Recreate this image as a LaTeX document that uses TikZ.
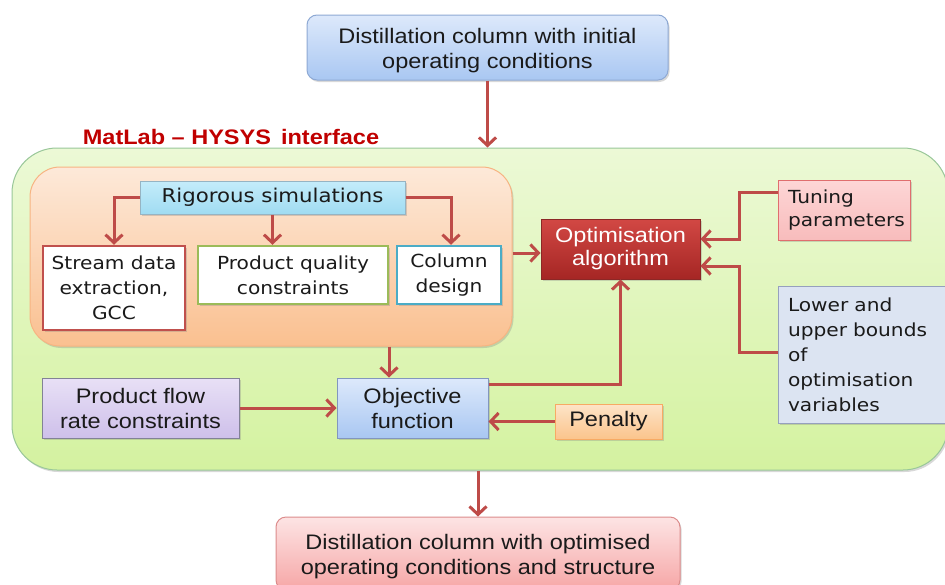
\documentclass[tikz,border=0pt]{standalone}
\usepackage{fontspec}
\setmainfont{Liberation Sans}[FakeStretch=1.12]
\newfontfamily\vfont{DejaVu Sans}[FakeStretch=1.12]
\usetikzlibrary{arrows.meta,shadows}
\definecolor{arrc}{HTML}{BE4B48}
\definecolor{txt}{HTML}{1A1A1A}
\begin{document}
\begin{tikzpicture}[x=1pt,y=-1pt,
  arr/.style={draw=arrc, line width=3pt, -{Straight Barb[length=8pt,width=17pt]}},
  base/.style={line width=1pt, align=center, inner sep=0pt, text=txt,
    font=\fontsize{21}{25}\selectfont},
  sh/.style={drop shadow={opacity=0.3, shadow xshift=1.5pt, shadow yshift=-2pt}},
  vtext/.style={font=\vfont\fontsize{18}{25}\selectfont},
]
\clip (0,0) rectangle (945,584);
\fill[white] (0,0) rectangle (945,584);

% containers
\node[base, sh, draw=green!45!black!40, rounded corners=45pt, top color={rgb,255:red,236;green,249;blue,214},
  bottom color={rgb,255:red,212;green,242;blue,160},
  minimum width=936pt, minimum height=322pt] (green) at (480,309) {};
\node[font=\bfseries\fontsize{21}{24}\selectfont, text={rgb,255:red,192;green,0;blue,0}] (title) at (231,137) {MatLab – HYSYS\, interface};
\node[base, sh, draw={rgb,255:red,247;green,180;blue,130}, rounded corners=30pt,
  top color={rgb,255:red,253;green,233;blue,217}, bottom color={rgb,255:red,250;green,192;blue,144},
  minimum width=482pt, minimum height=179pt] (orange) at (271,256.5) {};

% boxes
\node[base, sh, draw={rgb,255:red,142;green,169;blue,212}, rounded corners=10pt,
  top color={rgb,255:red,221;green,233;blue,251}, bottom color={rgb,255:red,169;green,199;blue,242},
  minimum width=361pt, minimum height=65pt] (top) at (487.5,47.5)
  {\rule{0pt}{21pt}Distillation column with initial\\operating conditions};

\node[base, sh, vtext, font=\vfont\fontsize{19}{22}\selectfont, draw={rgb,255:red,150;green,180;blue,195},
  top color={rgb,255:red,196;green,236;blue,250}, bottom color={rgb,255:red,160;green,220;blue,242},
  minimum width=265pt, minimum height=33pt] (rig) at (272.5,197.5) {Rigorous simulations};

\node[base, sh, vtext, fill=white, draw={rgb,255:red,192;green,80;blue,77}, line width=2.5pt,
  minimum width=142pt, minimum height=84pt] (stream) at (114,288) {Stream data\\extraction,\\GCC};
\node[base, sh, vtext, fill=white, draw={rgb,255:red,155;green,187;blue,89}, line width=2.5pt,
  minimum width=190pt, minimum height=58pt] (pq) at (293,275) {Product quality\\constraints};
\node[base, sh, vtext, fill=white, draw={rgb,255:red,75;green,172;blue,198}, line width=2.5pt,
  minimum width=104pt, minimum height=58pt] (col) at (449,275) {Column\\design};

\node[base, sh, text=white, draw={rgb,255:red,140;green,40;blue,38},
  top color={rgb,255:red,210;green,72;blue,68}, bottom color={rgb,255:red,165;green,38;blue,36},
  minimum width=159pt, minimum height=60pt, font=\fontsize{21}{23}\selectfont] (opt) at (620.5,249) {Optimisation\\algorithm};

\node[base, sh, vtext, align=left, text width=112pt, draw={rgb,255:red,224;green,110;blue,110},
  top color={rgb,255:red,253;green,214;blue,214}, bottom color={rgb,255:red,248;green,188;blue,188},
  minimum width=132pt, minimum height=60pt, font=\vfont\fontsize{18}{23}\selectfont] (tun) at (844,210) {Tuning\\parameters};

\node[base, sh, vtext, align=left, text width=150pt, draw={rgb,255:red,150;green,160;blue,190},
  fill={rgb,255:red,220;green,228;blue,242},
  minimum width=170pt, minimum height=137pt] (low) at (863,354.5)
  {Lower and\\upper bounds\\of\\optimisation\\variables};

\node[base, sh, draw={rgb,255:red,130;green,150;blue,190},
  top color={rgb,255:red,221;green,233;blue,251}, bottom color={rgb,255:red,169;green,199;blue,242},
  minimum width=151pt, minimum height=60pt] (obj) at (412.5,408) {Objective\\function};

\node[base, sh, draw={rgb,255:red,130;green,130;blue,150},
  top color={rgb,255:red,232;green,224;blue,246}, bottom color={rgb,255:red,206;green,192;blue,234},
  minimum width=197pt, minimum height=60pt] (pfr) at (140.5,408) {Product flow\\rate constraints};

\node[base, sh, draw={rgb,255:red,247;green,170;blue,100},
  top color={rgb,255:red,253;green,228;blue,200}, bottom color={rgb,255:red,251;green,196;blue,140},
  minimum width=107pt, minimum height=35pt] (pen) at (608.5,421.5) {Penalty};

\node[base, sh, draw={rgb,255:red,220;green,140;blue,140}, rounded corners=10pt,
  top color={rgb,255:red,253;green,228;blue,228}, bottom color={rgb,255:red,246;green,166;blue,166},
  minimum width=404pt, minimum height=73pt] (bot) at (478,553.5)
  {\rule{0pt}{21pt}Distillation column with optimised\\operating conditions and structure};

% connectors
\draw[arr] (top.south) -- (top.south |- green.north);
\draw[arr] (rig.west) -| (stream.north);
\draw[arr] (rig.south) -- (rig.south |- pq.north);
\draw[arr] (rig.east) -| ([xshift=2pt]col.north);
\draw[arr] (orange.east |- 0,253) -- (opt.west |- 0,253);
\draw[arr] (tun.west |- 0,192) -| (739,239) -- (opt.east |- 0,239);
\draw[arr] (low.west |- 0,352) -| (739,266) -- (opt.east |- 0,266);
\draw[arr] (orange.south -| 389,0) -- (obj.north -| 389,0);
\draw[arr] (pfr.east) -- (obj.west);
\draw[arr] (pen.west) -- (obj.east |- pen.west);
\draw[arr] (obj.east |- 0,384) -| (opt.south);
\draw[arr] (green.south -| bot.north) -- (bot.north);
\end{tikzpicture}
\end{document}
